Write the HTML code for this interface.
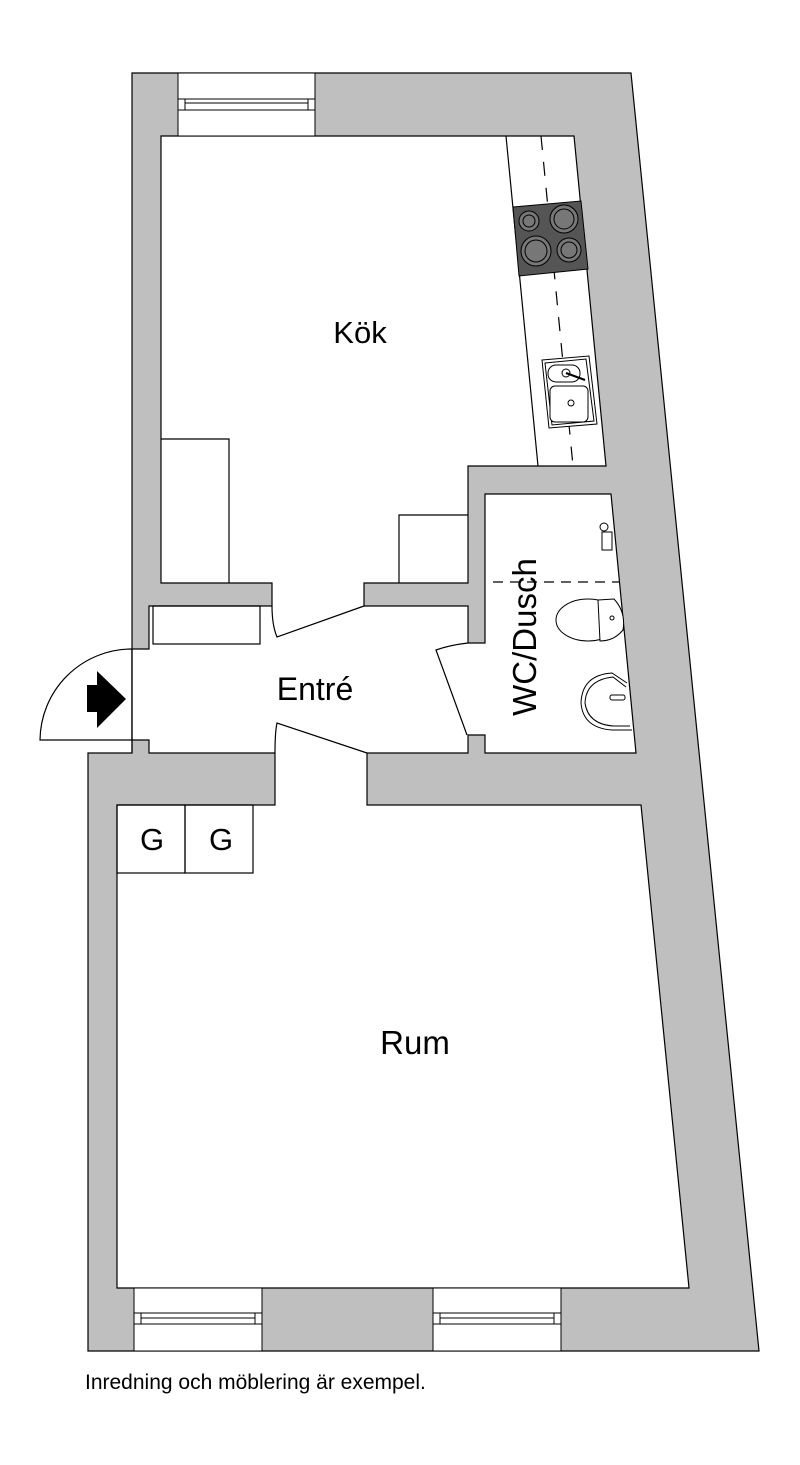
<!DOCTYPE html>
<html><head><meta charset="utf-8"><style>
html,body{margin:0;padding:0;background:#fff;}
svg{display:block;}
text{font-family:"Liberation Sans",sans-serif;fill:#000;}
</style></head><body>
<svg width="800" height="1465" viewBox="0 0 800 1465" xmlns="http://www.w3.org/2000/svg">
<polygon points="132,73 631,73 759,1351 88,1351 88,753 132,753" fill="#bfbfbf" stroke="#000" stroke-width="1.2"/>
<polygon points="161,136 574,136 606,466 468,466 468,583 364,583 364,606 468,606 468,643 485,643 485,494 611,494 636,753 485,753 485,735 468,735 468,753 367,753 367,805 641,805 689,1288 117,1288 117,805 275,805 275,753 149,753 149,740 132,740 132,649 149,649 149,606 272,606 272,583 161,583" fill="#fff" stroke="#000" stroke-width="1.2"/>
<!-- windows -->
<g fill="#fff" stroke="#000" stroke-width="1">
<rect x="178" y="73" width="137" height="63"/>
<rect x="178" y="99" width="137" height="11"/>
<line x1="185" y1="99" x2="185" y2="110"/><line x1="308" y1="99" x2="308" y2="110"/>
<line x1="185" y1="103" x2="308" y2="103"/>
<rect x="134" y="1288" width="128" height="63"/>
<rect x="134" y="1313" width="128" height="11"/>
<line x1="141" y1="1313" x2="141" y2="1324"/><line x1="255" y1="1313" x2="255" y2="1324"/>
<line x1="141" y1="1318" x2="255" y2="1318"/>
<rect x="433" y="1288" width="128" height="63"/>
<rect x="433" y="1313" width="128" height="11"/>
<line x1="440" y1="1313" x2="440" y2="1324"/><line x1="554" y1="1313" x2="554" y2="1324"/>
<line x1="440" y1="1318" x2="554" y2="1318"/>
</g>
<!-- kitchen counter -->
<line x1="506" y1="136" x2="538" y2="466" stroke="#000" stroke-width="1.2"/>
<line x1="541" y1="136" x2="573" y2="466" stroke="#000" stroke-width="1.2" stroke-dasharray="14,12"/>
<polygon points="513,207 581,201 588,269 519,276" fill="#555" stroke="#000"/>
<g fill="#777" stroke="#000" stroke-width="1">
<circle cx="529" cy="221" r="10"/><circle cx="529" cy="221" r="6"/>
<circle cx="564" cy="219" r="14"/><circle cx="564" cy="219" r="10"/>
<circle cx="536" cy="251" r="15"/><circle cx="536" cy="251" r="11"/>
<circle cx="569" cy="250" r="12"/><circle cx="569" cy="250" r="8"/>
</g>
<g fill="#fff" stroke="#000" stroke-width="1">
<polygon points="542,360 589,356 597,424 549,428"/>
<polygon points="545,363 586,359 594,421 552,425"/>
<rect x="548" y="365" width="32" height="17" rx="8"/>
<rect x="550" y="386" width="38" height="36" rx="5"/>
<circle cx="566" cy="373" r="4"/><line x1="566" y1="373" x2="585" y2="380" stroke-width="2"/>
<circle cx="571" cy="403" r="3"/>
</g>
<!-- closets -->
<g fill="none" stroke="#000" stroke-width="1.2">
<polyline points="161,439 229,439 229,583"/>
<polyline points="399,583 399,515 468,515"/>
<rect x="153" y="606" width="107" height="38"/>
<rect x="117" y="805" width="68" height="68"/>
<rect x="185" y="805" width="68" height="68"/>
<!-- doors -->
<path d="M272,606 Q272,625 277,637 L364,606"/>
<path d="M275,753 Q275,732 277,723 L367,753"/>
<path d="M468,643 Q450,645 436,650 L467,735"/>
<path d="M132,649 A92,92 0 0 0 40,740 L132,740"/>
<line x1="132" y1="649" x2="132" y2="753"/>
<line x1="493" y1="582" x2="620" y2="582" stroke-dasharray="10,7"/>
</g>
<polygon points="87,685 97,685 97,671 126,699 97,728 97,712 87,712" fill="#000"/>
<!-- WC fixtures -->
<g fill="#fff" stroke="#000" stroke-width="1">
<ellipse cx="588" cy="620" rx="32" ry="21"/>
<path d="M598,600 L614,599 Q626,612 623,630 Q614,641 600,641 Z"/>
<circle cx="612" cy="618" r="2"/>
<path d="M627,683 L612,673 Q582,675 581,703 Q583,728 612,730 L632,730" />
<path d="M626,687 L613,677 Q586,680 585,703 Q588,724 613,726 L630,726"/>
<rect x="610" y="695" width="15" height="5" rx="2"/>
<rect x="602" y="532" width="10" height="18"/>
<circle cx="604" cy="527" r="4"/>
</g>
<!-- labels -->
<text x="360" y="343" font-size="31" text-anchor="middle">Kök</text>
<text x="315" y="700" font-size="32" text-anchor="middle">Entré</text>
<text x="415" y="1054" font-size="33" text-anchor="middle">Rum</text>
<text x="152" y="850" font-size="31" text-anchor="middle">G</text>
<text x="221" y="850" font-size="31" text-anchor="middle">G</text>
<text transform="translate(536,637) rotate(-90)" font-size="33" text-anchor="middle">WC/Dusch</text>
<text x="85" y="1389" font-size="21">Inredning och möblering är exempel.</text>
</svg>
</body></html>
